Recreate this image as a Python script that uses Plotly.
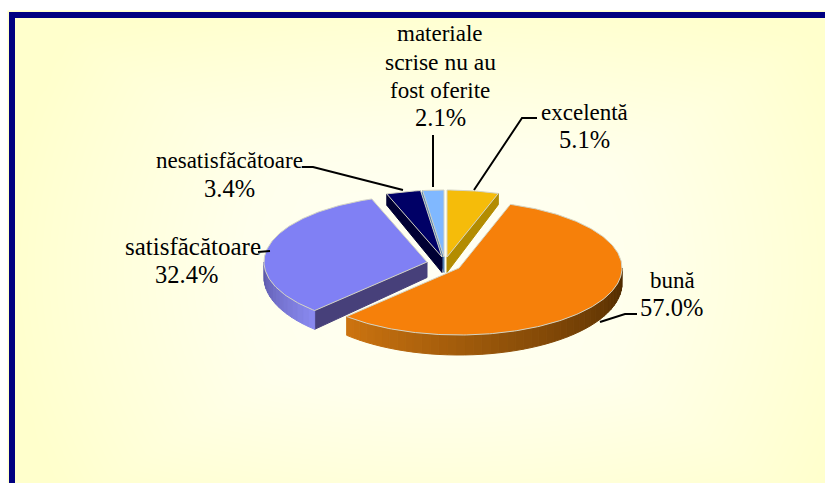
import numpy as np
import plotly.graph_objects as go

# ---- chart data ----
categories = ["excelentă", "bună", "satisfăcătoare", "nesatisfăcătoare", "materiale scrise nu au fost oferite"]
values = [5.1, 57.0, 32.4, 3.4, 2.1]
percent_labels = ["5.1%", "57.0%", "32.4%", "3.4%", "2.1%"]

# ---- styling ----
top_colors = ["#F5BC0A", "#F6800A", "#8080F4", "#000066", "#80B8FF"]
cut_colors = ["#B38C00", "#8A4A05", "#47407A", "#000033", "#5580B0"]
rim_from = ["#B38C00", "#CC7410", "#5C58A8", "#000033", "#5580B0"]
rim_to = ["#B38C00", "#4A2800", "#8A8AF0", "#000033", "#5580B0"]
# which radial wall of a slice faces the viewer: 0 = start edge, 1 = end edge
visible_wall = [1, None, 0, 0, 0]
centers = [(447, 257), (459, 268), (427, 262), (442, 257), (444, 257)]
A, B = 163, 67
DEPTH, DEPTH_VAR = 15.5, 4.5
FONT = "Liberation Serif"
FS = 23
FS_PCT = 24.5

label_lines = [
    ([("excelentă", FS), (percent_labels[0], FS_PCT)], [584, 584.5], [112, 139]),
    ([("bună", FS), (percent_labels[1], FS_PCT)], [672, 671.5], [280, 307]),
    ([("satisfăcătoare", 25), (percent_labels[2], FS_PCT)], [193, 186], [246, 274]),
    ([("nesatisfăcătoare", FS), (percent_labels[3], FS_PCT)], [229, 229], [160, 188]),
    ([("materiale", FS), ("scrise nu au", 23.5), ("fost oferite", FS), (percent_labels[4], FS_PCT)],
     [440, 440, 440, 440], [33, 62, 90, 117]),
]
leaders = [
    [(537, 118), (522, 118), (474, 190)],
    [(637, 314), (625, 314), (600, 322)],
    [(258, 252), (270, 251)],
    [(302, 167), (313, 167), (403, 190)],
    [(433, 135), (433, 187)],
]


def hex2rgb(h):
    return np.array([int(h[i:i + 2], 16) for i in (1, 3, 5)], float)


def mix(a, b, f):
    c = hex2rgb(a) * (1 - f) + hex2rgb(b) * f
    return "rgb(%d,%d,%d)" % tuple(c.round())


def pt(c, t, dy=0.0):
    return c[0] + A * np.sin(t), c[1] - B * np.cos(t) + dy


def depth(t):
    return DEPTH - DEPTH_VAR * np.cos(t)


fig = go.Figure()

# background glow
gx = np.arange(15, 826, 15)
gy = np.arange(18, 484, 15)
X, Y = np.meshgrid(gx, gy)
R = np.clip(np.maximum(np.abs(X - 440) / 440, np.abs(Y - 270) / 280) * 0.55
            + np.hypot((X - 440) / 440, (Y - 270) / 280) * 0.45, 0, 1)
fig.add_trace(go.Heatmap(x=gx, y=gy, z=R, zmin=0, zmax=1, zsmooth="best", showscale=False,
                         hoverinfo="skip",
                         colorscale=[[0, "#FFFFF4"], [0.45, "#FFFFEC"], [0.8, "#FFFFD8"], [1, "#FFFFCC"]]))


def poly(xs, ys, color, line=None, lw=1.0):
    fig.add_trace(go.Scatter(x=xs, y=ys, mode="lines", fill="toself", fillcolor=color,
                             line=dict(color=line or color, width=lw), hoverinfo="skip",
                             showlegend=False))


total = sum(values)
bounds = np.concatenate([[0], np.cumsum(values)]) / total * 2 * np.pi
order = [4, 3, 0, 2, 1]  # back to front

for i in order:
    c = centers[i]
    t0, t1 = bounds[i], bounds[i + 1]
    d0 = depth(np.pi / 2)

    # radial wall facing the viewer
    if visible_wall[i] is not None:
        t = t1 if visible_wall[i] else t0
        x, y = pt(c, t)
        poly([c[0], x, x, c[0], c[0]],
             [c[1], y, y + depth(t), c[1] + d0, c[1]], cut_colors[i])

    # outer rim, visible on the front half of the ellipse
    a, b = max(t0, np.pi / 2), min(t1, 3 * np.pi / 2)
    if a < b:
        n = max(2, int((b - a) / np.radians(3)))
        edges = np.linspace(a, b, n + 1)
        for k in range(n):
            tt = np.linspace(edges[k], edges[k + 1], 3)
            xs, ys = pt(c, tt)
            dd = depth(tt)
            f = (k + 0.5) / n
            poly(np.r_[xs, xs[::-1], xs[0]], np.r_[ys, (ys + dd)[::-1], ys[0]],
                 mix(rim_to[i], rim_from[i], f))

    # top face
    tt = np.linspace(t0, t1, max(8, int(np.degrees(t1 - t0))))
    xs, ys = pt(c, tt)
    poly(np.r_[c[0], xs, c[0]], np.r_[c[1], ys, c[1]], top_colors[i], line="#D4D4C4", lw=1)

shapes = [dict(type="rect", x0=12, y0=15, x1=900, y1=700, line=dict(color="#000080", width=6),
               layer="above")]
for path in leaders:
    d = "M " + " L ".join(f"{x},{y}" for x, y in path)
    shapes.append(dict(type="path", path=d, line=dict(color="#000000", width=2), layer="above"))

annotations = []
for lines, xs, ys in label_lines:
    for (text, size), x, y in zip(lines, xs, ys):
        annotations.append(dict(x=x, y=y, text=text, showarrow=False, xanchor="center", yanchor="middle",
                                font=dict(family=FONT, size=size, color="#000000")))

fig.update_layout(
    width=825, height=483, margin=dict(l=0, r=0, t=0, b=0),
    paper_bgcolor="#FFFFFF", plot_bgcolor="#FFFFFF", showlegend=False,
    xaxis=dict(range=[0, 825], visible=False, fixedrange=True),
    yaxis=dict(range=[483, 0], visible=False, fixedrange=True),
    shapes=shapes, annotations=annotations,
)
fig.write_html("out.html", config={"displayModeBar": False},
               post_script="document.body.style.margin='0';document.body.style.overflow='hidden';")
